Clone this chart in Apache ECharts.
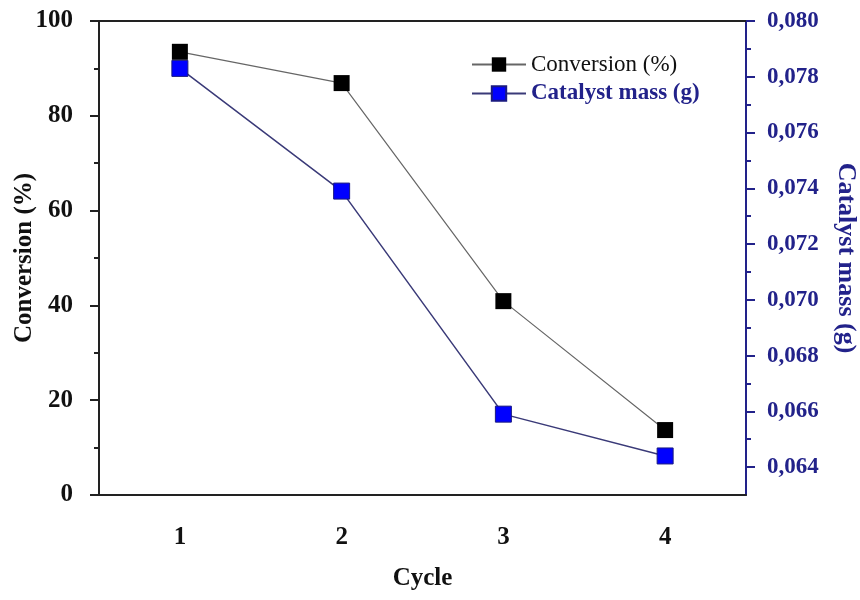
<!DOCTYPE html>
<html>
<head>
<meta charset="utf-8">
<script src="https://cdn.jsdelivr.net/npm/echarts@6/dist/echarts.min.js"></script>
<style>html,body{margin:0;padding:0;background:#fff;}#c{width:860px;height:600px;}</style>
</head>
<body>
<div id="c"></div>
<script>
const cycles = ['1', '2', '3', '4'];
const conversion = [93.5, 86.9, 40.9, 13.7];
const catalystMass = [0.0783, 0.0739, 0.0659, 0.0644];
const massMajorTicks = [0.064, 0.066, 0.068, 0.070, 0.072, 0.074, 0.076, 0.078, 0.080];
const massMinorTicks = [0.065, 0.067, 0.069, 0.071, 0.073, 0.075, 0.077, 0.079];

const NAVY = '#22228a';
const FONT = '"Liberation Serif", "Times New Roman", serif';

const chart = echarts.init(document.getElementById('c'));
chart.setOption({
  backgroundColor: '#fff',
  animation: false,
  grid: { left: 99, right: 114, top: 21, bottom: 105, containLabel: false, outerBoundsMode: 'none' },
  legend: {
    left: 466, top: 48, orient: 'vertical',
    itemWidth: 54, itemHeight: 18, itemGap: 6,
    data: [
      { name: 'Conversion (%)', textStyle: { color: '#111', fontWeight: 'normal' } },
      { name: 'Catalyst mass (g)', textStyle: { color: NAVY, fontWeight: 'bold' } }
    ],
    textStyle: { fontFamily: FONT, fontSize: 23 }
  },
  xAxis: [{
    type: 'category', data: cycles, boundaryGap: true,
    name: 'Cycle', nameLocation: 'middle', nameGap: 71,
    nameTextStyle: { fontFamily: FONT, fontSize: 25, fontWeight: 'bold', color: '#111' },
    axisLine: { lineStyle: { color: '#222', width: 2 } },
    axisTick: { alignWithLabel: true, length: 8, lineStyle: { color: '#222', width: 2 } },
    axisLabel: { margin: 30, fontFamily: FONT, fontSize: 25, fontWeight: 'bold', color: '#111' },
    splitLine: { show: false }
  }, {
    type: 'category', data: cycles, position: 'top',
    axisLine: { lineStyle: { color: '#222', width: 2 } },
    axisTick: { show: false }, axisLabel: { show: false }, splitLine: { show: false }
  }],
  yAxis: [{
    type: 'value', min: 0, max: 100, interval: 20, position: 'left',
    name: 'Conversion (%)', nameLocation: 'middle', nameGap: 62, nameRotate: 90, nameMoveOverlap: false,
    nameTextStyle: { fontFamily: FONT, fontSize: 25, fontWeight: 'bold', color: '#111' },
    axisLine: { show: true, lineStyle: { color: '#222', width: 2 } },
    axisTick: { show: true, length: 9, lineStyle: { color: '#222', width: 2 } },
    minorTick: { show: true, splitNumber: 2, length: 5, lineStyle: { color: '#222', width: 2 } },
    axisLabel: { margin: 26, fontFamily: FONT, fontSize: 25, fontWeight: 'bold', color: '#111' },
    splitLine: { show: false }
  }, {
    type: 'value', min: 0.063, max: 0.080, position: 'right',
    name: 'Catalyst mass (g)', nameLocation: 'middle', nameGap: 87, nameRotate: -90,
    nameTextStyle: { fontFamily: FONT, fontSize: 26, fontWeight: 'bold', color: NAVY },
    axisLine: { show: true, lineStyle: { color: NAVY, width: 2 } },
    axisTick: { show: true, length: 9, customValues: massMajorTicks, lineStyle: { color: NAVY, width: 2 } },
    axisLabel: {
      customValues: massMajorTicks, margin: 21,
      fontFamily: FONT, fontSize: 23, fontWeight: 'bold', color: NAVY,
      formatter: v => v.toFixed(3).replace('.', ',')
    },
    splitLine: { show: false }
  }, {
    type: 'value', min: 0.063, max: 0.080, position: 'right',
    axisLine: { show: false },
    axisTick: { show: true, length: 5, customValues: massMinorTicks, lineStyle: { color: NAVY, width: 2 } },
    axisLabel: { show: false },
    splitLine: { show: false }
  }],
  series: [{
    name: 'Conversion (%)', type: 'line', data: conversion,
    xAxisIndex: 0, yAxisIndex: 0,
    symbol: 'rect', symbolSize: 16,
    itemStyle: { color: '#000' },
    lineStyle: { color: '#666', width: 1.2 },
    z: 2
  }, {
    name: 'Catalyst mass (g)', type: 'line', data: catalystMass,
    xAxisIndex: 0, yAxisIndex: 1,
    symbol: 'rect', symbolSize: 16,
    itemStyle: { color: '#0000ff', borderColor: '#1a1a80', borderWidth: 1 },
    lineStyle: { color: '#3a3a78', width: 1.5 },
    z: 3
  }]
});
</script>
</body>
</html>
